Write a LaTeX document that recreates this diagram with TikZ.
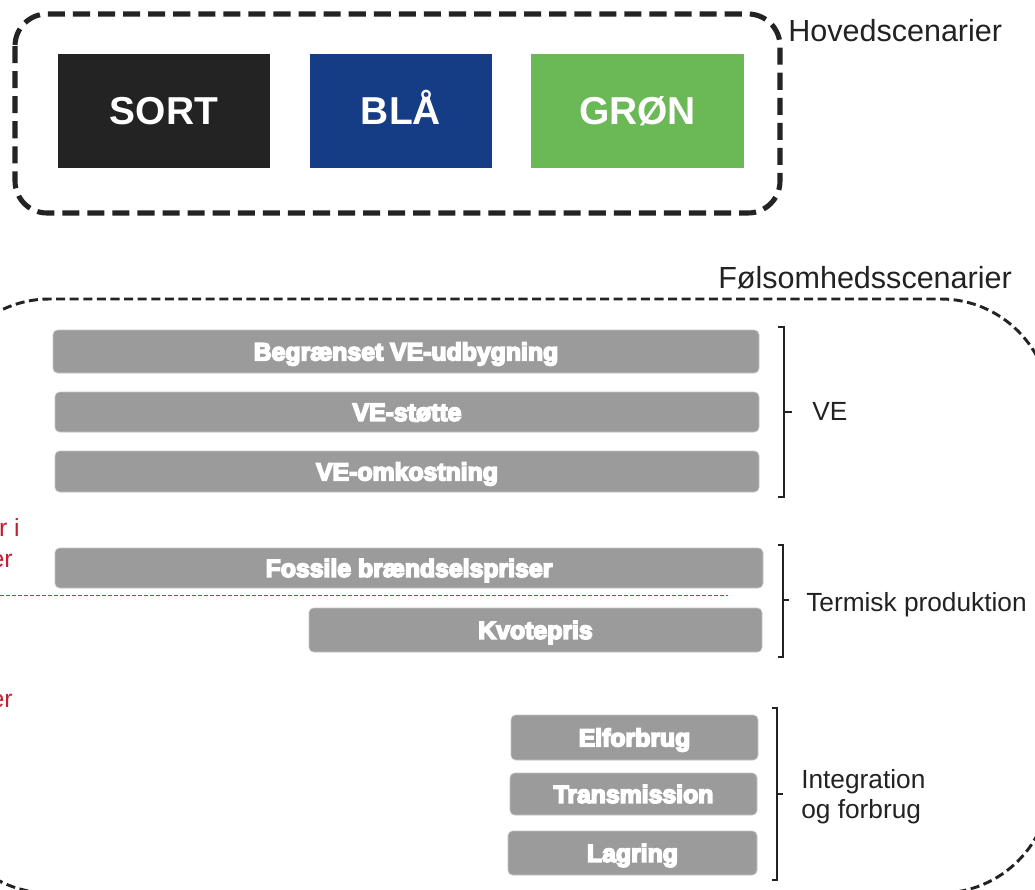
\documentclass[tikz,border=0pt]{standalone}
\usepackage{fontspec}
\setmainfont{Liberation Sans}
\newfontfamily\barfont[FakeBold=6.5]{Liberation Sans Bold}
\newfontfamily\capfont{Liberation Sans Bold}
\newdimen\pxu \pxu=0.75pt
\definecolor{sortc}{HTML}{232323}
\definecolor{blaac}{HTML}{153D85}
\definecolor{groenc}{HTML}{6AB856}
\definecolor{barc}{HTML}{9B9B9B}
\definecolor{barline}{HTML}{C4C4C4}
\definecolor{labelc}{HTML}{222222}
\definecolor{redc}{HTML}{C41E32}
\definecolor{redline}{HTML}{D8303F}
\tikzset{
  mainbox/.style={rectangle, inner sep=0pt, text=white,
    text height=20.9pt, text depth=0pt,
    font=\capfont\fontsize{29.2}{30}\selectfont},
  barbox/.style={rectangle, rounded corners=3.5pt, fill=barc, draw=barline,
    line width=0.5pt, inner sep=0pt, text=white,
    text height=13.3pt, text depth=0pt,
    font=\barfont\fontsize{18.6}{20}\selectfont},
  grouplabel/.style={inner sep=0pt, text=labelc,
    font=\fontsize{19.7}{21}\selectfont},
  titlelabel/.style={inner sep=0pt, text=labelc,
    font=\fontsize{22.9}{24}\selectfont},
  redtext/.style={inner sep=0pt, text=redc,
    font=\fontsize{18.6}{20}\selectfont},
  bracket/.style={draw=labelc, line width=0.8pt},
}
\begin{document}
\begin{tikzpicture}[x=0.75pt,y=-0.75pt]
\clip (0,0) rectangle (1035,889);
\fill[white] (0,0) rectangle (1035,889);

% main scenarios frame
\draw[line width=3.8pt, dash pattern=on 12.8pt off 6pt, rounded corners=24pt, draw=sortc]
  (15,14) rectangle (780,213);
\node[mainbox, fill=sortc, minimum width=212\pxu, minimum height=114\pxu] (sort) at (164,111) {SORT};
\node[mainbox, fill=blaac, minimum width=182\pxu, minimum height=114\pxu] (blaa) at (401,111) {BLÅ};
\node[mainbox, fill=groenc, minimum width=213\pxu, minimum height=114\pxu] (groen) at (637.5,111) {GRØN};
\node[titlelabel, anchor=base west] (hoved) at (788,41) {Hovedscenarier};

% sensitivity frame
\draw[line width=2.2pt, dash pattern=on 6.8pt off 3.4pt, rounded corners=82pt, draw=sortc]
  (-60,299) rectangle (1050,893);
\node[titlelabel, anchor=base west] (folsom) at (718,288) {Følsomhedsscenarier};

% sensitivity bars
\node[barbox, minimum width=706\pxu, minimum height=43\pxu] (b1) at (406,351.5) {Begrænset VE-udbygning};
\node[barbox, minimum width=704\pxu, minimum height=40\pxu] (b2) at (407,412) {VE-støtte};
\node[barbox, minimum width=704\pxu, minimum height=41\pxu] (b3) at (407,471.5) {VE-omkostning};
\node[barbox, minimum width=708\pxu, minimum height=40\pxu] (b4) at (409,568) {Fossile brændselspriser};
\node[barbox, minimum width=453\pxu, minimum height=44\pxu] (b5) at (535.5,630) {Kvotepris};
\node[barbox, minimum width=247\pxu, minimum height=45\pxu] (b6) at (634.5,737.5) {Elforbrug};
\node[barbox, minimum width=247\pxu, minimum height=42\pxu] (b7) at (633.5,794) {Transmission};
\node[barbox, minimum width=249\pxu, minimum height=44\pxu] (b8) at (632.5,853) {Lagring};

% group brackets
\draw[bracket] (778,327) -- (784,327) -- (784,497) -- (778,497);
\draw[bracket] (784,412) -- (792,412);
\draw[bracket] (778,545) -- (783,545) -- (783,657) -- (778,657);
\draw[bracket] (783,600) -- (789,600);
\draw[bracket] (772,708) -- (777,708) -- (777,880) -- (772,880);
\draw[bracket] (777,794) -- (783,794);

% group labels
\node[grouplabel, anchor=base west] (lve) at (812,420) {VE};
\node[grouplabel, anchor=base west] (lterm) at (806,611) {Termisk produktion};
\node[grouplabel, anchor=base west] (linteg) at (801,788) {Integration};
\node[grouplabel, anchor=base west] (lforb) at (801,818) {og forbrug};

% red separator and notes at the left edge
\draw[redline, line width=1pt, dash pattern=on 3pt off 1.5pt] (0,595.5) -- (728,595.5);
\node[redtext, anchor=base east] (rt1) at (20,536) {r i};
\node[redtext, anchor=base east] (rt2) at (13,567) {er};
\node[redtext, anchor=base east] (rt3) at (13,707) {er};
\end{tikzpicture}
\end{document}
